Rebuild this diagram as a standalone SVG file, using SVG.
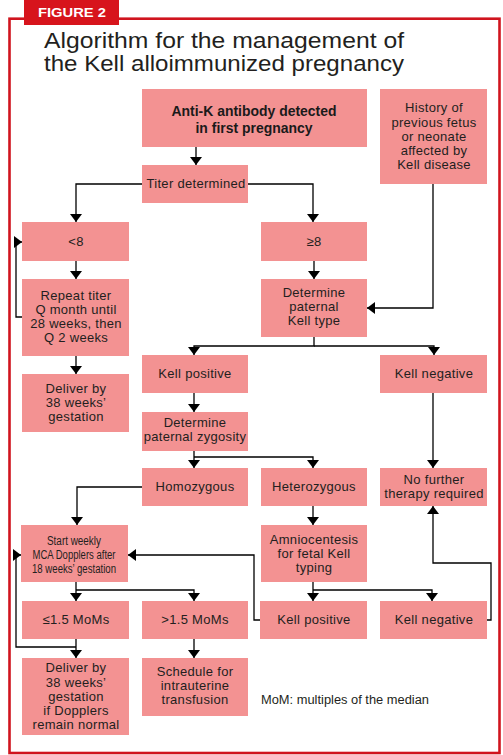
<svg xmlns="http://www.w3.org/2000/svg" width="503" height="755" viewBox="0 0 503 755">
<style>
  .box{fill:#f39292;}
  .t{font-family:"Liberation Sans",Arial,sans-serif;font-size:13px;letter-spacing:0.3px;text-anchor:middle;fill:#231f20;}
  .c{font-family:"Liberation Sans",Arial,sans-serif;font-size:12.5px;text-anchor:middle;fill:#231f20;}
  .b{font-family:"Liberation Sans",Arial,sans-serif;font-size:15px;font-weight:bold;text-anchor:middle;fill:#1a1a1a;}
  .title{font-family:"Liberation Sans",Arial,sans-serif;font-size:21.5px;fill:#231f20;}
  .conn path{fill:none;stroke:#000;stroke-width:1.3;}
  .arr{marker-end:url(#ah);}
</style>
<defs>
  <marker id="ah" viewBox="0 0 8 12" refX="8" refY="6" markerWidth="8" markerHeight="12" orient="auto" markerUnits="userSpaceOnUse">
    <path d="M0,0 L8,6 L0,12 z" fill="#000"/>
  </marker>
</defs>
<rect width="503" height="755" fill="#fff"/>
<rect x="9.5" y="18.7" width="490" height="734.3" fill="none" stroke="#d0141e" stroke-width="2.6"/>
<g id="figure-tab">
  <rect x="24" y="0" width="95" height="25" fill="#d7141c"/>
  <text x="38" y="17" font-family="'Liberation Sans',Arial,sans-serif" font-size="13" font-weight="bold" fill="#fff" textLength="68" lengthAdjust="spacingAndGlyphs">FIGURE 2</text>
</g>
<g id="title">
  <text class="title" x="44" y="48" textLength="360" lengthAdjust="spacingAndGlyphs">Algorithm for the management of</text>
  <text class="title" x="44" y="71" textLength="360" lengthAdjust="spacingAndGlyphs">the Kell alloimmunized pregnancy</text>
</g>

<g id="connectors" class="conn">
  <path class="arr" d="M196,147 V165"/>
  <path class="arr" d="M142,184 H76 V222"/>
  <path class="arr" d="M248,184 H313 V222"/>
  <path class="arr" d="M76,261 V279"/>
  <path class="arr" d="M22,317 H16 V242 H22"/>
  <path class="arr" d="M76,356 V374"/>
  <path class="arr" d="M314,261 V279"/>
  <path class="arr" d="M433,184 V308 H367"/>
  <path class="arr" d="M314,337 V346 H194 V355"/>
  <path class="arr" d="M314,346 H434 V355"/>
  <path class="arr" d="M194,393 V412"/>
  <path class="arr" d="M194,451 V468"/>
  <path class="arr" d="M194,457 H313 V468"/>
  <path class="arr" d="M433,393 V468"/>
  <path class="arr" d="M142,487 H77 V525"/>
  <path class="arr" d="M313,506 V525"/>
  <path class="arr" d="M313,582 V601"/>
  <path class="arr" d="M313,590 H432 V601"/>
  <path class="arr" d="M76,582 V601"/>
  <path class="arr" d="M76,590 H194 V601"/>
  <path class="arr" d="M260,620 H254 V555 H128"/>
  <path class="arr" d="M487,620 H491 V563 H433 V506"/>
  <path class="arr" d="M76,639 V658"/>
  <path class="arr" d="M76,647 H16 V555 H21"/>
  <path class="arr" d="M194,639 V658"/>
</g>

<g id="anti-k">
  <rect class="box" x="142" y="89" width="225" height="58"/>
  <text class="b" x="254" y="116" textLength="165" lengthAdjust="spacingAndGlyphs">Anti-K antibody detected</text>
  <text class="b" x="254" y="133" textLength="117" lengthAdjust="spacingAndGlyphs">in first pregnancy</text>
</g>
<g id="history">
  <rect class="box" x="380" y="89" width="107" height="95"/>
  <text class="t" x="434" y="112">History of</text>
  <text class="t" x="434" y="127">previous fetus</text>
  <text class="t" x="434" y="141">or neonate</text>
  <text class="t" x="434" y="155">affected by</text>
  <text class="t" x="434" y="169">Kell disease</text>
</g>
<g id="titer">
  <rect class="box" x="142" y="165" width="106" height="38"/>
  <text class="t" x="196" y="188">Titer determined</text>
</g>
<g id="lt8">
  <rect class="box" x="22" y="222" width="107" height="39"/>
  <text class="t" x="76" y="246">&lt;8</text>
</g>
<g id="ge8">
  <rect class="box" x="261" y="222" width="106" height="39"/>
  <text class="t" x="314" y="246">≥8</text>
</g>
<g id="repeat">
  <rect class="box" x="22" y="279" width="107" height="77"/>
  <text class="t" x="76" y="300">Repeat titer</text>
  <text class="t" x="76" y="314">Q month until</text>
  <text class="t" x="76" y="328">28 weeks, then</text>
  <text class="t" x="76" y="342">Q 2 weeks</text>
</g>
<g id="determine-kell">
  <rect class="box" x="261" y="279" width="106" height="58"/>
  <text class="t" x="314" y="297">Determine</text>
  <text class="t" x="314" y="311">paternal</text>
  <text class="t" x="314" y="325">Kell type</text>
</g>
<g id="deliver1">
  <rect class="box" x="22" y="374" width="107" height="58"/>
  <text class="t" x="76" y="393">Deliver by</text>
  <text class="t" x="76" y="407">38 weeks’</text>
  <text class="t" x="76" y="421">gestation</text>
</g>
<g id="kell-positive">
  <rect class="box" x="142" y="355" width="106" height="38"/>
  <text class="t" x="195" y="378">Kell positive</text>
</g>
<g id="kell-negative">
  <rect class="box" x="380" y="355" width="107" height="38"/>
  <text class="t" x="434" y="378">Kell negative</text>
</g>
<g id="zygosity">
  <rect class="box" x="142" y="412" width="106" height="39"/>
  <text class="t" x="195" y="427">Determine</text>
  <text class="t" x="195" y="441">paternal zygosity</text>
</g>
<g id="homozygous">
  <rect class="box" x="142" y="468" width="106" height="38"/>
  <text class="t" x="195" y="491">Homozygous</text>
</g>
<g id="heterozygous">
  <rect class="box" x="261" y="468" width="106" height="38"/>
  <text class="t" x="314" y="491">Heterozygous</text>
</g>
<g id="no-further">
  <rect class="box" x="380" y="468" width="107" height="38"/>
  <text class="t" x="434" y="484">No further</text>
  <text class="t" x="434" y="498">therapy required</text>
</g>
<g id="start-weekly">
  <rect class="box" x="21" y="525" width="107" height="57"/>
  <text class="c" x="74" y="545" textLength="54" lengthAdjust="spacingAndGlyphs">Start weekly</text>
  <text class="c" x="74" y="559" textLength="83" lengthAdjust="spacingAndGlyphs">MCA Dopplers after</text>
  <text class="c" x="74" y="573" textLength="84" lengthAdjust="spacingAndGlyphs">18 weeks’ gestation</text>
</g>
<g id="amnio">
  <rect class="box" x="261" y="525" width="106" height="57"/>
  <text class="t" x="314" y="544">Amniocentesis</text>
  <text class="t" x="314" y="558">for fetal Kell</text>
  <text class="t" x="314" y="572">typing</text>
</g>
<g id="le15">
  <rect class="box" x="22" y="601" width="107" height="38"/>
  <text class="t" x="76" y="624">≤1.5 MoMs</text>
</g>
<g id="gt15">
  <rect class="box" x="142" y="601" width="106" height="38"/>
  <text class="t" x="195" y="624">&gt;1.5 MoMs</text>
</g>
<g id="kell-positive-2">
  <rect class="box" x="260" y="601" width="107" height="38"/>
  <text class="t" x="314" y="624">Kell positive</text>
</g>
<g id="kell-negative-2">
  <rect class="box" x="380" y="601" width="107" height="38"/>
  <text class="t" x="434" y="624">Kell negative</text>
</g>
<g id="deliver2">
  <rect class="box" x="22" y="658" width="107" height="77"/>
  <text class="t" x="76" y="672">Deliver by</text>
  <text class="t" x="76" y="687">38 weeks’</text>
  <text class="t" x="76" y="701">gestation</text>
  <text class="t" x="76" y="715">if Dopplers</text>
  <text class="t" x="76" y="729">remain normal</text>
</g>
<g id="schedule">
  <rect class="box" x="142" y="658" width="106" height="58"/>
  <text class="t" x="195" y="676">Schedule for</text>
  <text class="t" x="195" y="690">intrauterine</text>
  <text class="t" x="195" y="704">transfusion</text>
</g>
<g id="note">
  <text x="261" y="704" font-family="'Liberation Sans',Arial,sans-serif" font-size="12" fill="#231f20" textLength="168" lengthAdjust="spacingAndGlyphs">MoM: multiples of the median</text>
</g>
</svg>
